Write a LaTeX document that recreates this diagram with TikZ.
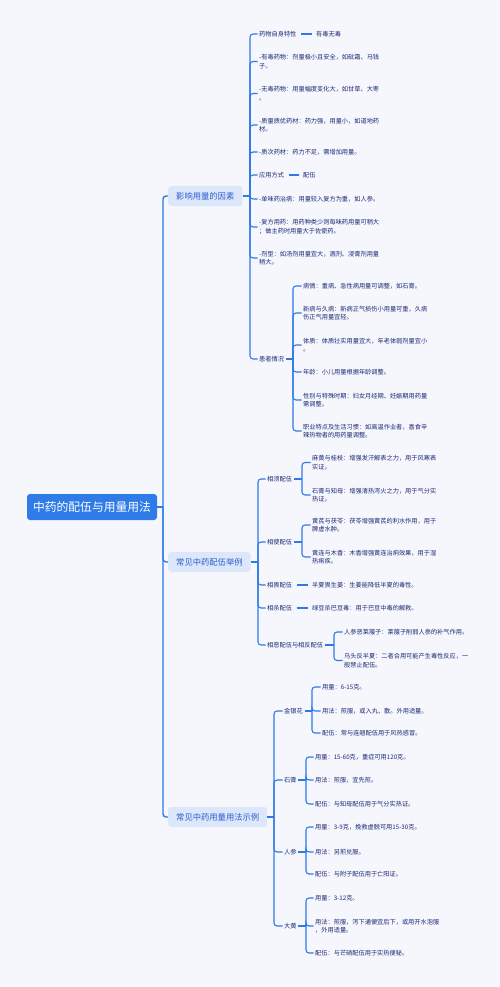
\documentclass[tikz,border=0pt]{standalone}
\usepackage{fontspec}
\setmainfont{Noto Sans CJK SC}
\definecolor{bgc}{HTML}{F5F7FD}
\definecolor{linec}{HTML}{3079E8}
\definecolor{leafc}{HTML}{1A2874}
\definecolor{lonefill}{HTML}{DDE7FB}
\definecolor{lonetext}{HTML}{2A5CD0}
\definecolor{rootfill}{HTML}{2F7BE8}
\tikzset{
  leaf/.style={anchor=west, inner sep=1.5pt, font=\fontsize{6.2}{8.4}\selectfont, text=leafc, align=left},
  lone/.style={anchor=west, fill=lonefill, rounded corners=3pt, text=lonetext, font=\fontsize{8.3}{10}\selectfont, inner xsep=8pt, inner ysep=0pt, minimum height=20pt},
  rootn/.style={fill=rootfill, rounded corners=3pt, text=white, font=\fontsize{11.8}{13}\selectfont, minimum width=130pt, minimum height=26pt, inner sep=0pt},
  conn/.style={draw=linec, line width=1.1pt, rounded corners=3pt},
  trunk/.style={draw=linec, line width=1.4pt, rounded corners=3pt},
  dashlink/.style={draw=linec, line width=1.1pt, shorten <=3pt, shorten >=2.5pt}
}
\begin{document}
\begin{tikzpicture}[x=1pt,y=-1pt]
\path[use as bounding box, fill=bgc] (0,0) rectangle (500,987);
% vertical guide coordinates
\coordinate (vt) at (163,0);
\coordinate (v1) at (250,0);
\coordinate (v1b) at (293,0);
\coordinate (v2) at (258,0);
\coordinate (v2a) at (302,0);
\coordinate (v2c) at (334,0);
\coordinate (v3) at (274,0);
\coordinate (v3a) at (312,0);
\coordinate (v3b) at (306,0);

% root
\node[rootn] (root) at (92,507) {中药的配伍与用量用法};

% level one
\node[lone] (b1) at (168,196) {影响用量的因素};
\node[lone] (b2) at (168,562) {常见中药配伍举例};
\node[lone] (b3) at (168,817) {常见中药用量用法示例};

% branch 1
\node[leaf] (a1) at (257.5,34) {药物自身特性};
\node[leaf] (a1b) at (314.5,34) {有毒无毒};
\node[leaf] (a2) at (257.5,61.5) {-有毒药物：剂量极小且安全，如砒霜、马钱\\子。};
\node[leaf] (a3) at (257.5,93.5) {-无毒药物：用量幅度变化大，如甘草、大枣\\。};
\node[leaf] (a4) at (257.5,125) {-质量质优药材：药力强，用量小，如道地药\\材。};
\node[leaf] (a5) at (257.5,152) {-质次药材：药力不足，需增加用量。};
\node[leaf] (a6) at (257.5,175) {应用方式};
\node[leaf] (a6b) at (301.5,175) {配伍};
\node[leaf] (a7) at (257.5,199) {-单味药治病：用量较入复方为重，如人参。};
\node[leaf] (a8) at (257.5,227) {-复方用药：用药种类少则每味药用量可稍大\\；做主药时用量大于佐使药。};
\node[leaf] (a9) at (257.5,258) {-剂型：如汤剂用量宜大，酒剂、浸膏剂用量\\稍大。};
\node[leaf] (a10) at (257.5,359) {患者情况};
\node[leaf] (p1) at (301.5,286) {病情：重病、急性病用量可调整，如石膏。};
\node[leaf] (p2) at (301.5,313) {新病与久病：新病正气损伤小用量可重，久病\\伤正气用量宜轻。};
\node[leaf] (p3) at (301.5,345) {体质：体质壮实用量宜大，年老体弱剂量宜小\\。};
\node[leaf] (p4) at (301.5,372) {年龄：小儿用量根据年龄调整。};
\node[leaf] (p5) at (301.5,400) {性别与特殊时期：妇女月经期、妊娠期用药量\\需调整。};
\node[leaf] (p6) at (301.5,431) {职业特点及生活习惯：如高温作业者，喜食辛\\辣热物者的用药量调整。};

% branch 2
\node[leaf] (c1) at (265.5,479) {相须配伍};
\node[leaf] (c11) at (310.5,462.5) {麻黄与桂枝：增强发汗解表之力，用于风寒表\\实证。};
\node[leaf] (c12) at (310.5,495) {石膏与知母：增强清热泻火之力，用于气分实\\热证。};
\node[leaf] (c2) at (265.5,542) {相使配伍};
\node[leaf] (c21) at (310.5,525) {黄芪与茯苓：茯苓增强黄芪的利水作用，用于\\脾虚水肿。};
\node[leaf] (c22) at (310.5,557) {黄连与木香：木香增强黄连治痢效果，用于湿\\热痢疾。};
\node[leaf] (c3) at (265.5,585) {相畏配伍};
\node[leaf] (c3b) at (310.5,585) {半夏畏生姜：生姜能降低半夏的毒性。};
\node[leaf] (c4) at (265.5,608) {相杀配伍};
\node[leaf] (c4b) at (310.5,608) {绿豆杀巴豆毒：用于巴豆中毒的解救。};
\node[leaf] (c5) at (265.5,645) {相恶配伍与相反配伍};
\node[leaf] (c51) at (342.5,632) {人参恶莱菔子：莱菔子削弱人参的补气作用。};
\node[leaf] (c52) at (342.5,660.5) {乌头反半夏：二者合用可能产生毒性反应，一\\般禁止配伍。};

% branch 3
\node[leaf] (d1) at (282.5,711) {金银花};
\node[leaf] (d11) at (320.5,687) {用量：6-15克。};
\node[leaf] (d12) at (320.5,711) {用法：煎服，或入丸、散。外用适量。};
\node[leaf] (d13) at (320.5,733) {配伍：常与连翘配伍用于风热感冒。};
\node[leaf] (d2) at (282.5,780) {石膏};
\node[leaf] (d21) at (313.5,757) {用量：15-60克，重症可用120克。};
\node[leaf] (d22) at (313.5,780) {用法：煎服，宜先煎。};
\node[leaf] (d23) at (313.5,804) {配伍：与知母配伍用于气分实热证。};
\node[leaf] (d3) at (282.5,852) {人参};
\node[leaf] (d31) at (313.5,827) {用量：3-9克，挽救虚脱可用15-30克。};
\node[leaf] (d32) at (313.5,852) {用法：另煎兑服。};
\node[leaf] (d33) at (313.5,874) {配伍：与附子配伍用于亡阳证。};
\node[leaf] (d4) at (282.5,926) {大黄};
\node[leaf] (d41) at (313.5,898) {用量：3-12克。};
\node[leaf] (d42) at (313.5,926) {用法：煎服，泻下通便宜后下，或用开水泡服\\，外用适量。};
\node[leaf] (d43) at (313.5,953) {配伍：与芒硝配伍用于实热便秘。};

% trunk
\draw[trunk] (root.east) -- (vt |- root.east);
\foreach \c in {b1,b2,b3} \draw[trunk] (vt |- root.east) |- (\c.west);

% branch 1 connectors
\draw[conn] (b1.east) -- (v1 |- b1.east);
\foreach \c in {a1,a2,a3,a4,a5,a6,a7,a8,a9,a10} \draw[conn] (v1 |- b1.east) |- (\c.west);
\draw[dashlink] (a1.east) -- (a1b.west);
\draw[dashlink] (a6.east) -- (a6b.west);
\draw[conn] (a10.east) -- (v1b |- a10.east);
\foreach \c in {p1,p2,p3,p4,p5,p6} \draw[conn] (v1b |- a10.east) |- (\c.west);

% branch 2 connectors
\draw[conn] (b2.east) -- (v2 |- b2.east);
\foreach \c in {c1,c2,c3,c4,c5} \draw[conn] (v2 |- b2.east) |- (\c.west);
\draw[conn] (c1.east) -- (v2a |- c1.east);
\foreach \c in {c11,c12} \draw[conn] (v2a |- c1.east) |- (\c.west);
\draw[conn] (c2.east) -- (v2a |- c2.east);
\foreach \c in {c21,c22} \draw[conn] (v2a |- c2.east) |- (\c.west);
\draw[dashlink] (c3.east) -- (c3b.west);
\draw[dashlink] (c4.east) -- (c4b.west);
\draw[conn] (c5.east) -- (v2c |- c5.east);
\foreach \c in {c51,c52} \draw[conn] (v2c |- c5.east) |- (\c.west);

% branch 3 connectors
\draw[conn] (b3.east) -- (v3 |- b3.east);
\foreach \c in {d1,d2,d3,d4} \draw[conn] (v3 |- b3.east) |- (\c.west);
\draw[conn] (d1.east) -- (v3a |- d1.east);
\foreach \c in {d11,d12,d13} \draw[conn] (v3a |- d1.east) |- (\c.west);
\draw[conn] (d2.east) -- (v3b |- d2.east);
\foreach \c in {d21,d22,d23} \draw[conn] (v3b |- d2.east) |- (\c.west);
\draw[conn] (d3.east) -- (v3b |- d3.east);
\foreach \c in {d31,d32,d33} \draw[conn] (v3b |- d3.east) |- (\c.west);
\draw[conn] (d4.east) -- (v3b |- d4.east);
\foreach \c in {d41,d42,d43} \draw[conn] (v3b |- d4.east) |- (\c.west);
\end{tikzpicture}
\end{document}
